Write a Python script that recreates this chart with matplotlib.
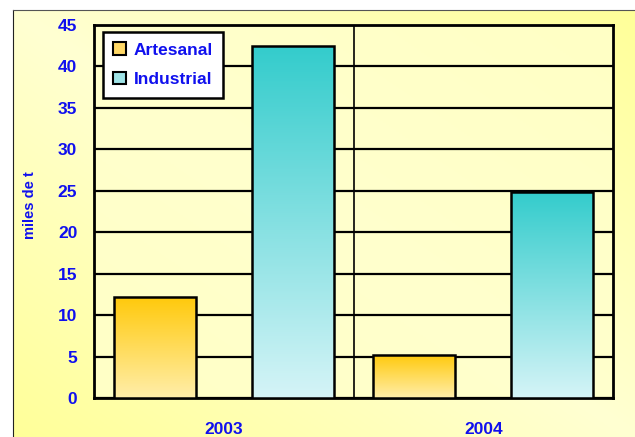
#!/usr/bin/env python3
import numpy as np
import matplotlib
matplotlib.use("Agg")
import matplotlib.pyplot as plt
from matplotlib.colors import LinearSegmentedColormap
from matplotlib.patches import Patch

years = ["2003", "2004"]
series_names = ["Artesanal", "Industrial"]
artesanal = [12.2, 5.2]
industrial = [42.5, 24.9]
yticks = [0, 5, 10, 15, 20, 25, 30, 35, 40, 45]

BLUE = "#1010ee"
plt.rcParams["font.family"] = ["Liberation Sans", "DejaVu Sans"]

fig = plt.figure(figsize=(6.35, 4.37), dpi=100)
W, H = 635, 437

# background panel with diagonal yellow gradient
bg = fig.add_axes([13 / W, 0, 1 - 13 / W, 1 - 10 / H])
xx, yy = np.meshgrid(np.linspace(0, 1, 200), np.linspace(0, 1, 200))
d = np.abs((xx + (1 - yy)) / 2 - 0.5) * 2
bg_cmap = LinearSegmentedColormap.from_list("bg", ["#ffffd2", "#ffff99"])
bg.imshow(d, cmap=bg_cmap, extent=[0, 1, 0, 1], aspect="auto", origin="upper")
bg.set_xticks([])
bg.set_yticks([])
for s in ["right", "bottom"]:
    bg.spines[s].set_visible(False)
bg.spines["left"].set_color("#222222")
bg.spines["top"].set_color("#555555")
bg.spines["top"].set_linestyle((0, (6, 1)))

ax = fig.add_axes([94 / W, 1 - 398 / H, (613 - 94) / W, (398 - 25) / H])
ax.set_facecolor("#ffffcc")
ax.patch.set_alpha(0.85)

x = np.arange(len(years))
w = 0.316
off = 0.266
cmaps = [
    LinearSegmentedColormap.from_list("a", ["#ffeeaa", "#ffc90a"]),
    LinearSegmentedColormap.from_list("i", ["#d5f4f7", "#33cccc"]),
]
grad = np.linspace(0, 1, 256).reshape(-1, 1)

for vals, pos, cm, name in [(artesanal, x - off, cmaps[0], series_names[0]),
                            (industrial, x + off, cmaps[1], series_names[1])]:
    bars = ax.bar(pos, vals, width=w, color="none", edgecolor="black",
                  linewidth=1.8, zorder=4, label=name)
    for b in bars:
        im = ax.imshow(grad, cmap=cm, origin="lower", aspect="auto",
                       extent=[b.get_x(), b.get_x() + b.get_width(), 0, b.get_height()],
                       zorder=3)
        im.set_clip_path(b)

ax.set_xlim(-0.5, 1.5)
ax.set_ylim(0, 45)
ax.set_yticks(yticks)
ax.yaxis.grid(True, color="black", linewidth=1.6, zorder=1)
ax.axvline(0.5, color="black", linewidth=1.2, zorder=1)
ax.set_axisbelow(True)
ax.set_xticks(x)
ax.set_xticklabels(years)
ax.tick_params(axis="both", length=0, labelcolor=BLUE)
ax.tick_params(axis="y", pad=12)
ax.tick_params(axis="x", pad=17)
for lab in ax.get_xticklabels() + ax.get_yticklabels():
    lab.set_fontweight("bold")
    lab.set_fontsize(12.5)
for s in ax.spines.values():
    s.set_linewidth(2)
ax.set_ylabel("miles de t", color=BLUE, fontsize=10.5, fontweight="bold")
ax.yaxis.set_label_coords(-0.11, 0.517)

leg_handles = [Patch(facecolor="#ffd866", edgecolor="black", linewidth=1.5),
               Patch(facecolor="#9fe3e6", edgecolor="black", linewidth=1.5)]
leg = ax.legend(leg_handles, series_names, loc="upper left",
                bbox_to_anchor=(9 / 519, 1 - 7 / 373), borderaxespad=0,
                fancybox=False, framealpha=1, edgecolor="black",
                handlelength=0.75, handleheight=0.75, handletextpad=0.4,
                labelspacing=0.8, borderpad=0.6,
                prop={"weight": "bold", "size": 12.5})
leg.get_frame().set_linewidth(1.8)
leg.set_zorder(6)
for t in leg.get_texts():
    t.set_color(BLUE)

fig.savefig("out.png", dpi=100)
